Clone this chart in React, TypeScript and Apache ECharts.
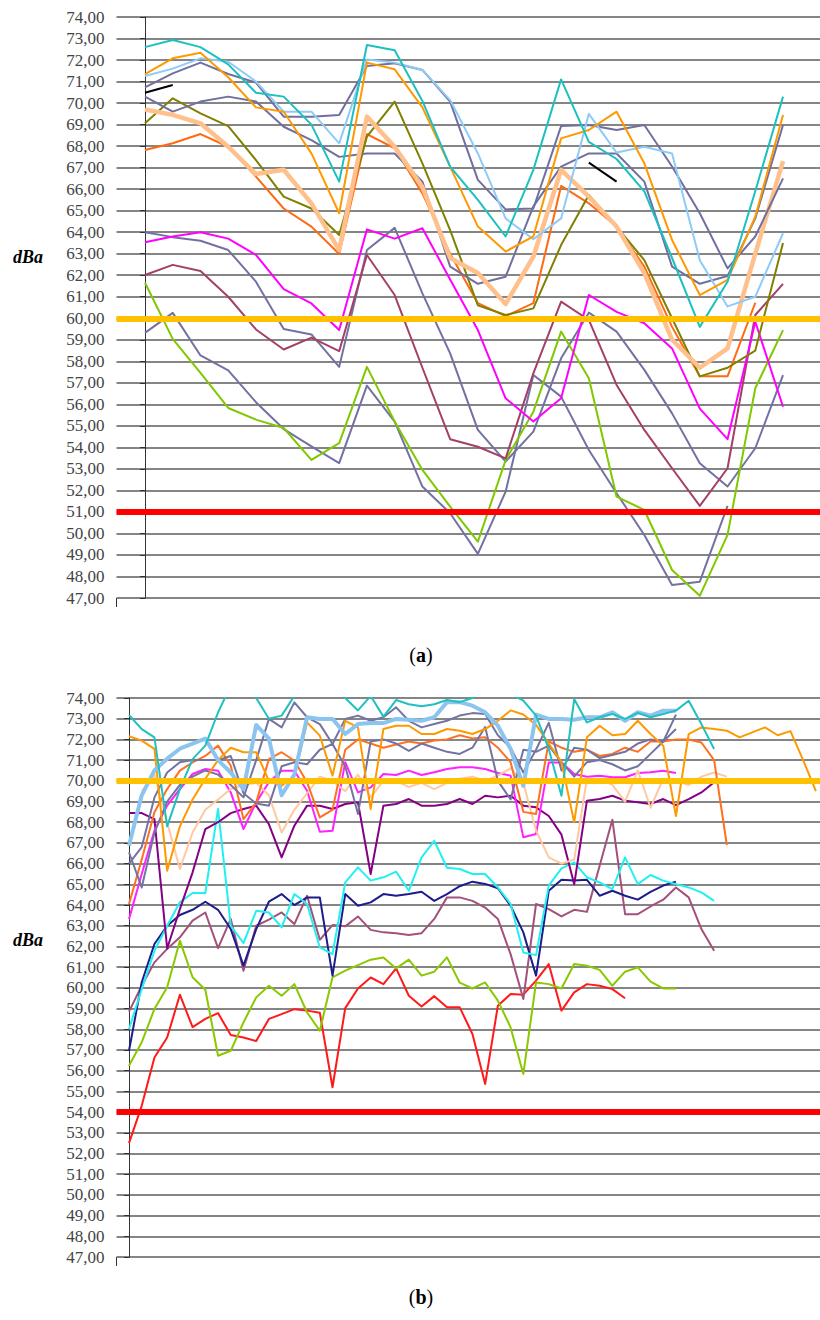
import React, { useEffect, useRef } from "react";
import * as echarts from "echarts";

// ---------- shared axis ----------
const yMin = 47;
const yMax = 74;
const yStep = 1;

// ---------- (a) top panel, 24 measurement points ----------
const topTurquoise = [72.6, 72.93, 72.6, 71.8, 70.48, 70.3, 69.0, 66.35, 72.7, 72.45, 70.1, 67.05, 65.5, 63.8, 66.9, 71.1, 68.2, 67.4, 65.9, 62.8, 59.6, 61.7, 65.9, 70.3];
const topOrange = [71.35, 72.08, 72.34, 71.2, 69.8, 69.6, 67.66, 64.88, 71.88, 71.57, 69.8, 67.05, 64.26, 63.1, 63.8, 68.36, 68.75, 69.6, 67.2, 63.64, 61.08, 61.78, 64.72, 69.45];
const topLightBlue = [71.26, 71.6, 72.08, 71.92, 71.0, 69.6, 69.6, 68.13, 72.03, 71.88, 71.54, 70.14, 67.66, 64.64, 63.67, 64.64, 69.5, 67.7, 67.97, 67.66, 62.7, 60.55, 61.0, 63.95];
const topSlate1 = [70.73, 71.38, 71.88, 71.35, 70.95, 69.37, 69.37, 69.45, 71.72, 71.85, 71.54, 70.07, 66.43, 65.06, 65.1, 68.93, 68.98, 68.75, 68.98, 67.05, 64.88, 62.32, 63.8, 66.5];
const topSlate2 = [70.3, 69.6, 70.07, 70.3, 70.07, 68.9, 68.28, 67.5, 67.66, 67.66, 66.35, 62.4, 61.6, 61.93, 65.2, 67.05, 67.66, 67.66, 66.35, 62.4, 61.6, 61.96, 64.64, 68.98];
const topOlive = [69.06, 70.22, 69.52, 68.93, 67.35, 65.65, 65.1, 63.87, 68.44, 70.07, 67.2, 64.1, 60.6, 60.15, 60.46, 63.4, 65.73, 64.26, 62.7, 60.0, 57.3, 57.7, 58.5, 63.5];
const topPeach = [69.7, 69.45, 69.06, 67.97, 66.7, 66.9, 65.34, 63.17, 69.37, 67.97, 66.1, 62.8, 62.1, 60.66, 62.86, 66.9, 65.65, 64.26, 62.1, 59.0, 57.7, 58.6, 63.0, 67.3];
const topDarkOrange = [67.82, 68.13, 68.56, 67.97, 66.58, 65.1, 64.26, 62.99, 68.56, 67.9, 65.8, 63.0, 60.7, 60.1, 60.7, 66.15, 65.34, 64.26, 62.4, 59.6, 57.3, 57.3, 60.72];
const topSlate3 = [64.0, 63.77, 63.6, 63.17, 61.7, 59.5, 59.25, 57.74, 63.17, 64.2, 61.16, 58.37, 54.81, 53.34, 54.73, 58.14, 60.26, 59.38, 57.6, 55.58, 53.26, 52.18, 53.96, 57.36];
const topSlate4 = [59.32, 60.25, 58.27, 57.58, 56.1, 54.85, 54.05, 53.27, 56.87, 55.2, 52.18, 50.94, 49.05, 51.94, 57.36, 56.36, 53.88, 51.87, 49.93, 47.6, 47.76, 51.28];
const topMagenta = [63.53, 63.8, 64.0, 63.7, 62.94, 61.35, 60.69, 59.45, 64.13, 63.7, 64.18, 61.8, 59.45, 56.28, 55.2, 56.28, 61.08, 60.3, 59.77, 58.6, 55.8, 54.38, 59.84, 55.89];
const topMaroon = [62.01, 62.48, 62.2, 61.0, 59.48, 58.55, 59.1, 58.47, 62.94, 61.08, 57.7, 54.38, 54.03, 53.49, 57.44, 60.77, 59.92, 56.9, 54.81, 53.03, 51.28, 53.03, 60.15, 61.6];
const topYellowGreen = [61.65, 59.04, 57.46, 55.83, 55.29, 54.9, 53.42, 54.2, 57.74, 55.2, 52.95, 51.25, 49.62, 53.41, 55.66, 59.38, 57.21, 51.71, 51.09, 48.3, 47.1, 49.93, 56.75, 59.45];
const topBlackA = [70.48, 70.84];
const topBlackAStart = 0;
const topBlackB = [67.23, 66.35];
const topBlackBStart = 16;
const topLimits = [60, 51];

// ---------- (b) bottom panel, up to 55 measurement points ----------
const botRed = [52.5, 54.3, 56.64, 57.6, 59.67, 58.1, 58.5, 58.78, 57.72, 57.6, 57.43, 58.5, 58.73, 58.97, 58.9, 58.8, 55.2, 59.02, 59.97, 60.5, 60.18, 60.94, 59.62, 59.1, 59.6, 59.06, 59.06, 57.77, 55.36, 59.14, 59.7, 59.67, 60.35, 61.15, 58.9, 59.78, 60.18, 60.1, 59.94, 59.5];
const botYellowGreen = [56.24, 57.37, 58.98, 60.03, 62.28, 60.51, 59.91, 56.72, 56.96, 58.33, 59.54, 60.1, 59.62, 60.18, 58.81, 57.93, 60.51, 60.83, 61.1, 61.36, 61.47, 60.94, 61.36, 60.59, 60.78, 61.47, 60.25, 59.97, 60.26, 59.38, 58.09, 55.84, 60.26, 60.18, 59.97, 61.15, 61.07, 60.87, 60.1, 60.78, 60.99, 60.3, 59.97, 59.97];
const botNavy = [56.96, 60.27, 62.12, 63.0, 63.52, 63.77, 64.16, 63.77, 62.84, 61.07, 62.84, 64.16, 64.53, 64.0, 64.37, 64.37, 60.59, 64.53, 63.97, 64.13, 64.53, 64.45, 64.53, 64.64, 64.2, 64.53, 64.91, 65.13, 65.02, 64.81, 63.97, 62.68, 60.59, 64.69, 65.22, 65.18, 65.22, 64.45, 64.69, 64.45, 64.26, 64.64, 64.94, 65.13];
const botCyan = [58.0, 59.94, 61.79, 63.0, 64.13, 64.58, 64.58, 68.64, 63.0, 62.16, 63.72, 63.64, 62.92, 64.53, 64.05, 61.95, 61.63, 65.09, 65.82, 65.18, 65.34, 65.61, 64.69, 66.3, 67.1, 65.8, 65.74, 65.5, 65.5, 64.85, 64.05, 61.71, 61.58, 64.94, 65.77, 66.06, 65.34, 65.09, 64.77, 66.3, 65.01, 65.45, 65.18, 65.01, 64.85, 64.61, 64.2];
const botMauve = [58.85, 60.1, 61.23, 61.88, 62.44, 63.25, 63.64, 61.92, 63.33, 60.83, 63.0, 63.3, 63.64, 63.08, 64.45, 62.32, 63.03, 62.97, 63.45, 62.8, 62.68, 62.64, 62.55, 62.64, 63.33, 64.37, 64.37, 64.2, 63.88, 63.33, 61.63, 59.46, 64.05, 63.8, 63.45, 63.77, 63.67, 65.9, 68.12, 63.56, 63.56, 63.93, 64.26, 64.85, 64.37, 62.84, 61.79];
const botPurple = [68.44, 68.44, 68.15, 61.9, 63.8, 65.58, 67.67, 68.0, 68.44, 68.64, 68.8, 67.9, 66.3, 67.83, 68.8, 68.8, 68.64, 68.88, 68.96, 65.5, 68.8, 68.88, 69.12, 68.8, 68.8, 68.88, 69.12, 68.88, 69.28, 69.2, 69.28, 68.8, 68.72, 68.3, 67.4, 65.0, 69.04, 69.12, 69.28, 69.04, 68.96, 68.88, 69.12, 68.83, 69.12, 69.44, 69.93];
const botMagenta = [63.32, 65.5, 67.6, 68.8, 69.6, 70.33, 70.57, 70.49, 69.44, 67.67, 68.96, 69.93, 70.49, 70.49, 69.52, 67.54, 67.59, 70.9, 69.44, 69.68, 70.33, 70.28, 70.49, 70.28, 70.41, 70.57, 70.65, 70.65, 70.57, 70.38, 70.25, 67.27, 67.43, 70.89, 70.89, 70.33, 70.2, 70.25, 70.17, 70.17, 70.38, 70.41, 70.49, 70.38];
const botPeach = [69.5, 70.3, 68.0, 65.74, 67.5, 68.6, 69.1, 69.6, 69.8, 69.9, 69.3, 67.5, 68.6, 69.4, 70.2, 70.0, 69.5, 70.3, 69.2, 70.0, 70.0, 69.7, 69.9, 69.6, 69.9, 70.1, 70.2, 70.0, 70.25, 70.6, 69.9, 67.6, 66.3, 66.0, 66.2, 70.1, 70.1, 69.8, 69.0, 70.5, 68.7, 70.1, 70.0, 69.8, 70.2, 70.4, 70.2];
const botPeachStart = 1;
const botOrange = [72.15, 71.94, 71.54, 65.66, 67.8, 69.1, 70.1, 71.0, 71.6, 71.38, 71.38, 70.0, 69.76, 70.25, 72.82, 72.18, 70.25, 72.9, 72.58, 68.64, 72.5, 72.66, 72.66, 72.26, 72.26, 72.5, 72.42, 72.26, 72.5, 72.9, 73.4, 73.2, 72.7, 71.8, 70.9, 68.0, 72.1, 72.66, 72.2, 72.26, 72.9, 72.26, 71.7, 68.3, 72.26, 72.58, 72.5, 72.42, 72.1, 72.34, 72.58, 72.2, 72.4, 71.0, 69.5];
const botDarkOrange = [64.05, 66.2, 68.48, 69.6, 70.49, 70.89, 71.2, 71.7, 70.73, 68.15, 68.96, 71.05, 71.38, 70.97, 69.93, 68.23, 68.6, 71.5, 72.0, 71.8, 71.6, 71.75, 71.9, 71.8, 71.95, 72.0, 72.2, 72.05, 72.1, 71.6, 70.9, 68.5, 68.4, 71.9, 71.6, 71.4, 71.5, 71.2, 71.3, 71.6, 71.4, 71.9, 71.9, 72.0, 72.0, 71.85, 71.0, 66.9];
const botTeal = [73.18, 72.5, 72.1, 67.8, 69.6, 71.05, 71.7, 73.3, 74.6, 74.8, 74.0, 73.0, 73.15, 74.1, 74.8, 74.6, 74.5, 74.0, 73.4, 74.1, 73.1, 73.9, 73.7, 73.6, 73.7, 73.9, 73.8, 74.0, 74.4, 74.4, 74.2, 73.87, 73.15, 71.54, 69.28, 73.95, 72.82, 73.07, 73.23, 72.99, 73.28, 73.07, 73.23, 73.39, 73.87, 72.74, 71.54];
const botLightBlue = [66.87, 69.3, 70.5, 71.07, 71.55, 71.8, 72.04, 71.0, 70.4, 69.6, 72.7, 72.04, 69.3, 70.3, 73.07, 72.99, 72.99, 72.26, 72.74, 72.79, 72.79, 72.99, 72.95, 72.9, 73.07, 73.8, 73.8, 73.63, 73.31, 72.66, 71.54, 69.76, 73.2, 72.99, 72.99, 72.95, 73.07, 73.07, 73.31, 72.9, 73.31, 73.15, 73.39, 73.39];
const botSlateU = [66.55, 64.85, 67.5, 69.0, 69.8, 70.2, 70.5, 70.3, 69.8, 69.2, 71.0, 72.99, 72.58, 73.79, 73.07, 72.74, 71.78, 72.99, 73.15, 72.9, 73.07, 73.55, 72.9, 72.58, 72.74, 72.9, 73.15, 73.27, 73.23, 72.2, 71.6, 70.4, 71.5, 72.8, 70.5, 71.6, 71.5, 71.1, 71.25, 71.4, 71.8, 72.0, 71.9, 73.2];
const botSlateL = [66.0, 66.8, 69.2, 70.4, 70.9, 71.0, 71.0, 71.0, 71.2, 69.4, 68.9, 68.8, 70.7, 70.9, 70.8, 71.5, 71.78, 70.7, 68.4, 71.9, 72.0, 71.8, 71.45, 71.8, 71.6, 71.4, 71.3, 71.6, 72.6, 70.0, 69.1, 71.5, 71.4, 71.7, 70.9, 70.2, 70.9, 71.0, 70.8, 70.5, 70.7, 71.3, 71.9, 72.5];
const botLimits = [70, 54];

// ---------- layout ----------
const W = 820;
const H = 1320;
const AXIS_X = 116.5;
const TOP_Y0 = 17;
const TOP_H = 581;
const BOT_Y0 = 698;
const BOT_H = 559;
const TOP_X0 = 145; // pixel of first point
const TOP_DX = 27.74;
const BOT_X0 = 129;
const BOT_DX = 12.72;

const fmt = (v: number) => v.toFixed(2).replace(".", ",");
const serif = "Liberation Serif";

function yAxis(gridIndex: number) {
  return {
    type: "value",
    gridIndex,
    min: yMin,
    max: yMax,
    interval: yStep,
    axisLine: { show: true, lineStyle: { color: "#333", width: 1 } },
    axisTick: { show: true, length: 5, lineStyle: { color: "#333", width: 1 } },
    axisLabel: { formatter: fmt, fontFamily: serif, fontSize: 17, color: "#444", margin: 12 },
    splitLine: { show: true, lineStyle: { color: "#5c5c5c", width: 1.5 } },
  };
}

function line(data: number[], color: string, axis: number, width = 2, start = 0) {
  return {
    type: "line",
    xAxisIndex: axis,
    yAxisIndex: axis,
    data: data.map((v, i) => [i + start, v]),
    symbol: "none",
    showSymbol: false,
    clip: true,
    lineStyle: { color, width, join: "round" },
    itemStyle: { color },
    z: 3,
  };
}

function limit(values: number[], colors: string[], axis: number) {
  return values.map((v, k) => ({
    type: "line",
    xAxisIndex: axis,
    yAxisIndex: axis,
    data: [],
    z: 6,
    markLine: {
      silent: true,
      symbol: ["none", "none"],
      label: { show: false },
      lineStyle: { color: colors[k], width: 6, type: "solid", opacity: 1 },
      data: [{ yAxis: v }],
    },
  }));
}

export default function App() {
  const ref = useRef<HTMLDivElement>(null);
  useEffect(() => {
    if (!ref.current) return;
    const chart = echarts.init(ref.current, undefined, { renderer: "svg", width: W, height: H });
    const topW = W - AXIS_X;
    const option: any = {
      animation: false,
      backgroundColor: "#ffffff",
      grid: [
        { left: AXIS_X, top: TOP_Y0, width: topW, height: TOP_H },
        { left: AXIS_X, top: BOT_Y0, width: topW, height: BOT_H },
      ],
      xAxis: [
        { type: "value", gridIndex: 0, min: (AXIS_X - TOP_X0) / TOP_DX, max: (W - TOP_X0) / TOP_DX, show: false },
        { type: "value", gridIndex: 1, min: (AXIS_X - BOT_X0) / BOT_DX, max: (W - BOT_X0) / BOT_DX, show: false },
      ],
      yAxis: [yAxis(0), yAxis(1)],
      series: [
        // top panel
        line(topSlate4, "#7272a2", 0),
        line(topSlate3, "#7272a2", 0),
        line(topYellowGreen, "#80c800", 0),
        line(topMaroon, "#a44068", 0),
        line(topMagenta, "#ff00ff", 0),
        line(topDarkOrange, "#ff6a10", 0),
        line(topOlive, "#808000", 0),
        line(topSlate2, "#7070a0", 0),
        line(topPeach, "#ffc08c", 0, 4.5),
        line(topSlate1, "#7070a0", 0),
        line(topLightBlue, "#8ecbf8", 0),
        line(topOrange, "#ff9900", 0),
        line(topTurquoise, "#1dc0c0", 0),
        line(topBlackA, "#000000", 0, 2, topBlackAStart),
        line(topBlackB, "#000000", 0, 2, topBlackBStart),
        ...limit(topLimits, ["#ffc000", "#ff0000"], 0),
        // bottom panel
        line(botRed, "#ff1a1a", 1),
        line(botYellowGreen, "#8ac800", 1),
        line(botMauve, "#a4507c", 1),
        line(botNavy, "#1c1c8c", 1),
        line(botCyan, "#22f0f0", 1),
        line(botPurple, "#850085", 1),
        line(botMagenta, "#ff22ff", 1),
        line(botPeach, "#ffc8a0", 1, 2, botPeachStart),
        line(botDarkOrange, "#ff7020", 1),
        line(botSlateL, "#7474a2", 1),
        line(botSlateU, "#7474a2", 1),
        line(botOrange, "#ff9900", 1),
        line(botLightBlue, "#8cc4f0", 1, 4),
        line(botTeal, "#20c0c0", 1),
        ...limit(botLimits, ["#ffc000", "#ff0000"], 1),
      ],
      graphic: [
        { type: "line", shape: { x1: AXIS_X, y1: TOP_Y0 + TOP_H, x2: AXIS_X, y2: TOP_Y0 + TOP_H + 9 }, style: { stroke: "#333", lineWidth: 1 } },
        { type: "line", shape: { x1: AXIS_X, y1: BOT_Y0 + BOT_H, x2: AXIS_X, y2: BOT_Y0 + BOT_H + 9 }, style: { stroke: "#333", lineWidth: 1 } },
        { type: "text", x: 28, y: 257, style: { text: "dBa", fontFamily: serif, fontStyle: "italic", fontWeight: "bold", fontSize: 18, fill: "#000", textAlign: "center", textVerticalAlign: "middle" } },
        { type: "text", x: 28, y: 940, style: { text: "dBa", fontFamily: serif, fontStyle: "italic", fontWeight: "bold", fontSize: 18, fill: "#000", textAlign: "center", textVerticalAlign: "middle" } },
        {
          type: "text", x: 421, y: 655,
          style: {
            text: "{p|(}{b|a}{p|)}", textAlign: "center", textVerticalAlign: "middle",
            rich: { p: { fontFamily: serif, fontSize: 20, fill: "#000" }, b: { fontFamily: serif, fontSize: 20, fontWeight: "bold", fill: "#000" } },
          },
        },
        {
          type: "text", x: 421, y: 1297,
          style: {
            text: "{p|(}{b|b}{p|)}", textAlign: "center", textVerticalAlign: "middle",
            rich: { p: { fontFamily: serif, fontSize: 20, fill: "#000" }, b: { fontFamily: serif, fontSize: 20, fontWeight: "bold", fill: "#000" } },
          },
        },
      ],
    };
    chart.setOption(option);
    return () => chart.dispose();
  }, []);
  return <div ref={ref} style={{ position: "absolute", left: 0, top: 0, width: W, height: H, background: "#fff" }} />;
}
